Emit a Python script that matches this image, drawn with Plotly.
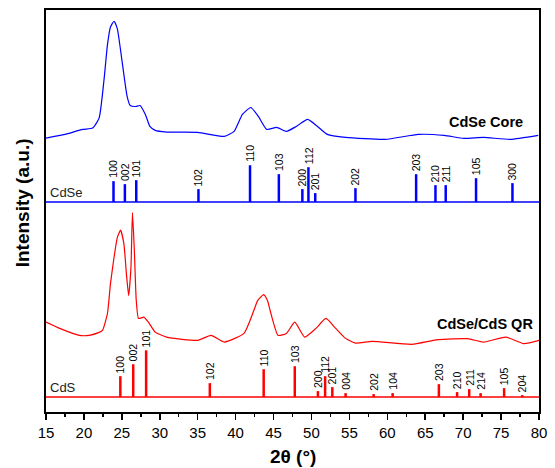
import plotly.graph_objects as go

# ---------------- data ----------------
# CdSe core XRD pattern (2theta, intensity a.u.)
core_2theta = [15.0, 17.5, 19.85, 21.15, 22.0, 22.67, 23.1, 23.5, 23.97, 24.4, 24.8, 25.27,
               25.7, 26.1, 26.8, 27.4, 28.1, 28.7, 29.4, 30.9, 35.0, 38.5, 39.8, 40.9,
               42.0, 43.0, 44.1, 45.4, 46.7, 48.0, 49.5, 50.8, 52.1, 54.5, 59.7, 64.1,
               67.5, 70.1, 72.7, 76.2, 79.9]
core_int = [64.3, 68, 73, 74.3, 84.3, 124.3, 158, 176, 181.7, 174.3, 154.3, 128,
            106, 97, 96, 97, 88, 76, 72, 70.3, 70, 66, 71, 88,
            95, 86, 73, 75, 71, 76, 83, 76, 68, 65, 63, 68,
            67, 64, 65, 63, 67]

# CdSe/CdS quantum rod XRD pattern
qr_2theta = [15.0, 16.8, 19.4, 20.7, 22.0, 22.45, 23.1, 23.5, 23.97, 24.4, 24.84, 25.27,
             25.6, 25.9, 26.2, 26.4, 26.65, 26.9, 27.2, 27.9, 28.5, 29.4, 30.9, 35.0,
             36.75, 38.5, 41.1, 42.4, 42.9, 43.7, 44.2, 44.55, 45.6, 46.7, 47.8, 49.1,
             50.6, 51.9, 53.2, 54.5, 55.8, 58.0, 63.2, 66.7, 70.6, 72.7, 75.6, 78.0, 80.0]
qr_int = [75.3, 69, 62, 62, 65, 67, 84, 114, 140.3, 160.3, 167.7, 154,
          124, 102, 130.3, 185.3, 147, 97, 79, 80.3, 75.3, 65.3, 60.3, 57,
          62, 55.3, 64, 87, 97, 103, 97, 87, 62, 64, 75.3, 60.3,
          69, 79, 69, 59, 54.3, 56, 53, 57.7, 58.7, 55.3, 60.3, 53.7, 57]

# Reference patterns (stick positions, relative intensities, hkl labels)
cdse_pos = [23.9, 25.4, 26.9, 35.1, 41.9, 45.7, 48.8, 49.6, 50.5, 55.8, 63.8, 66.35, 67.7, 71.7, 76.5]
cdse_h = [21, 18, 22, 13, 37, 28, 13, 35, 9, 14, 28, 17, 17, 24, 19]
cdse_hkl = ["100", "002", "101", "102", "110", "103", "200", "112", "201", "202",
            "203", "210", "211", "105", "300"]

cds_pos = [24.8, 26.5, 28.2, 36.6, 43.7, 47.8, 50.85, 51.8, 52.75, 54.5, 58.2, 60.7,
           66.8, 69.2, 70.8, 72.3, 75.4, 77.8]
cds_h = [21, 33, 47, 14, 28, 31, 6, 21, 10, 4, 3, 4, 13, 5, 8, 4, 9, 2]
cds_hkl = ["100", "002", "101", "102", "110", "103", "200", "112", "201", "004",
           "202", "104", "203", "210", "211", "214", "105", "204"]

x_ticks = [15, 20, 25, 30, 35, 40, 45, 50, 55, 60, 65, 70, 75, 80]

# ---------------- layout constants ----------------
CORE_OFF = 211
QR_OFF = 15
BLUE = "#0000FF"
RED = "#FF0000"
FONT = "Arial, Liberation Sans, sans-serif"

fig = go.Figure()

# Curves
fig.add_trace(go.Scatter(x=core_2theta, y=[v + CORE_OFF for v in core_int], mode="lines",
                         line=dict(color=BLUE, width=1.2, shape="spline", smoothing=0.5),
                         hoverinfo="skip", showlegend=False))
fig.add_trace(go.Scatter(x=qr_2theta, y=[v + QR_OFF for v in qr_int], mode="lines",
                         line=dict(color=RED, width=1.2, shape="spline", smoothing=0.5),
                         hoverinfo="skip", showlegend=False))


def sticks(pos, h, off, color, width):
    xs, ys = [], []
    for p, v in zip(pos, h):
        xs += [p, p, None]
        ys += [off, off + v, None]
    fig.add_trace(go.Scatter(x=xs, y=ys, mode="lines", line=dict(color=color, width=width),
                             hoverinfo="skip", showlegend=False))
    fig.add_trace(go.Scatter(x=[15, 80], y=[off, off], mode="lines",
                             line=dict(color=color, width=1.5), hoverinfo="skip", showlegend=False))


sticks(cdse_pos, cdse_h, CORE_OFF, BLUE, 2.5)
sticks(cds_pos, cds_h, QR_OFF, RED, 2.5)

ann = []
for p, v, t in zip(cdse_pos, cdse_h, cdse_hkl):
    ann.append(dict(x=p, y=v + CORE_OFF, text=t, textangle=-90, showarrow=False,
                    xanchor="center", yanchor="bottom", yshift=1,
                    font=dict(family=FONT, size=10.5, color="black")))
for p, v, t in zip(cds_pos, cds_h, cds_hkl):
    ann.append(dict(x=p, y=v + QR_OFF, text=t, textangle=-90, showarrow=False,
                    xanchor="center", yanchor="bottom", yshift=1,
                    font=dict(family=FONT, size=10.5, color="black")))

ann += [
    dict(x=15.25, y=CORE_OFF, text="CdSe", showarrow=False, xanchor="left", yanchor="bottom",
         yshift=0, font=dict(family=FONT, size=13, color="#222")),
    dict(x=15.25, y=QR_OFF, text="CdS", showarrow=False, xanchor="left", yanchor="bottom",
         yshift=0, font=dict(family=FONT, size=13, color="#222")),
    dict(x=78.2, y=291, text="<b>CdSe Core</b>", showarrow=False, xanchor="right", yanchor="middle",
         font=dict(family=FONT, size=14.5, color="black")),
    dict(x=79.5, y=88, text="<b>CdSe/CdS QR</b>", showarrow=False, xanchor="right", yanchor="middle",
         font=dict(family=FONT, size=14.5, color="black")),
    dict(xref="paper", yref="paper", x=-0.046, y=0.52, text="<b>Intensity (a.u.)</b>",
         textangle=-90, showarrow=False, xanchor="center", yanchor="middle",
         font=dict(family=FONT, size=19, color="black")),
    dict(xref="paper", yref="paper", x=0.5, y=-0.111, text="<b>2θ (°)</b>",
         showarrow=False, xanchor="center", yanchor="middle",
         font=dict(family=FONT, size=19, color="black")),
]

fig.update_layout(
    width=555, height=468,
    margin=dict(l=46, r=9, t=8, b=56),
    paper_bgcolor="white", plot_bgcolor="white",
    annotations=ann,
    xaxis=dict(range=[15, 80], tickvals=x_ticks, ticks="outside", ticklen=6, tickwidth=1.5,
               tickcolor="black", showline=True, linecolor="black", linewidth=2, mirror=True,
               showgrid=False, zeroline=False,
               tickfont=dict(family=FONT, size=15, color="black"),
               minor=dict(dtick=2.5, ticks="outside", ticklen=3, tickwidth=1.5, tickcolor="black",
                          showgrid=False)),
    yaxis=dict(range=[0, 404], showticklabels=False, ticks="", showline=True, linecolor="black",
               linewidth=2, mirror=True, showgrid=False, zeroline=False, fixedrange=True),
)

# remove the default page margin so the figure fills the window exactly
fig.write_html("out.html",
               config={"displayModeBar": False, "staticPlot": True},
               post_script="document.body.style.margin='0';document.body.style.overflow='hidden';")
